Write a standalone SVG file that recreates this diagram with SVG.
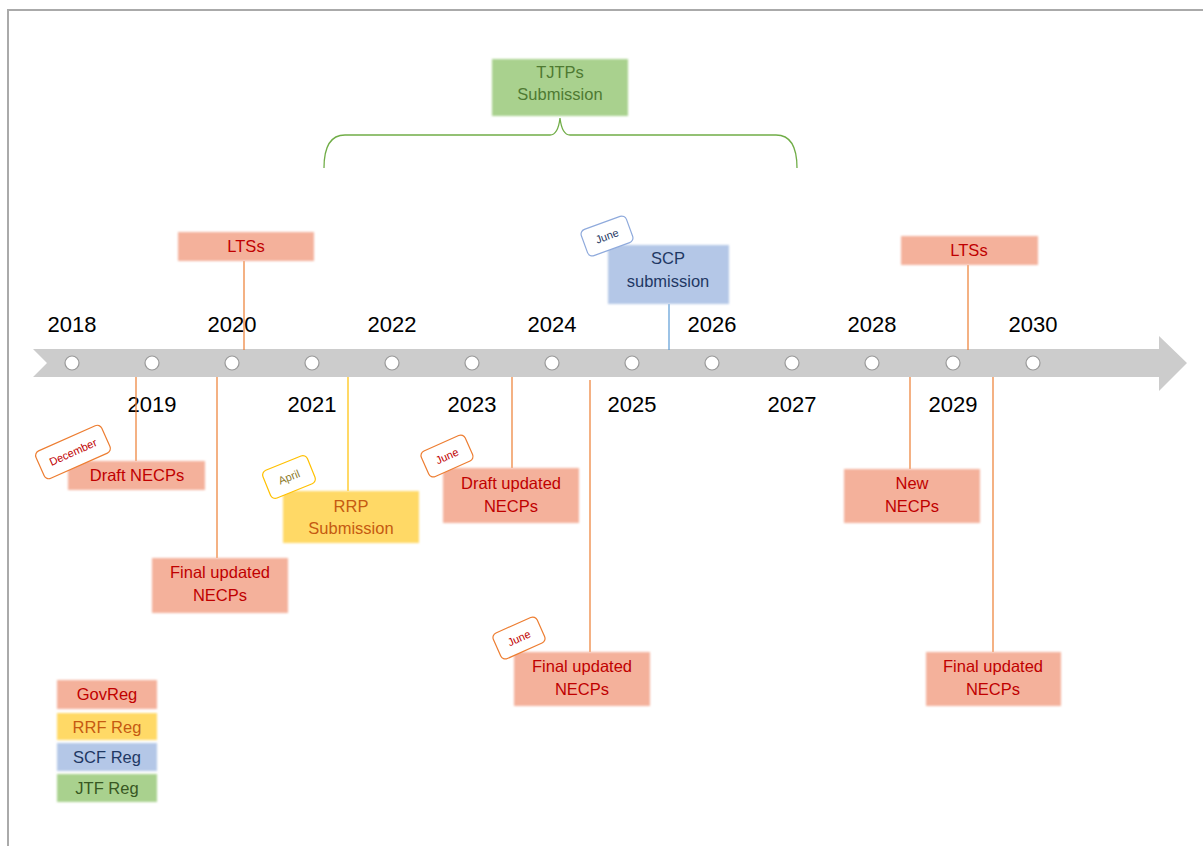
<svg xmlns="http://www.w3.org/2000/svg" width="1203" height="846" viewBox="0 0 1203 846">
<defs>
<filter id="soft" x="-10%" y="-20%" width="120%" height="140%"><feGaussianBlur stdDeviation="1.2"/></filter>
<style>
.yr{font-family:"Liberation Sans",Arial,sans-serif;font-size:22px;fill:#000;text-anchor:middle}
.lbl{font-family:"Liberation Sans",Arial,sans-serif;font-size:16.5px;text-anchor:middle}
.tag{font-family:"Liberation Sans",Arial,sans-serif;font-size:11px;text-anchor:middle}
.gov{fill:#f4b19b}
.rrf{fill:#ffd966}
.scf{fill:#b4c7e7}
.jtf{fill:#a9d18e}
.tgov{fill:#c00000}
.trrf{fill:#c55a11}
.tscf{fill:#1f3864}
.tjtf{fill:#4f7a32}
.dot{fill:#fff;stroke:#999;stroke-width:1.2}
.lo{stroke:#ed7d31;stroke-width:1.2;fill:none}
.ly{stroke:#ffc000;stroke-width:1.2;fill:none}
.lb{stroke:#5b9bd5;stroke-width:1.2;fill:none}
</style>
</defs>
<rect width="1203" height="846" fill="#fff"/>
<path d="M8,846 V10 H1203" fill="none" stroke="#aaa" stroke-width="2"/>

<g id="timeline">
<polygon points="33,349 1159,349 1159,336 1187,363 1159,391 1159,377 33,377 47,363" fill="#cccccc"/>
<g>
<circle class="dot" cx="72" cy="363" r="7"/><circle class="dot" cx="152" cy="363" r="7"/><circle class="dot" cx="232" cy="363" r="7"/><circle class="dot" cx="312" cy="363" r="7"/><circle class="dot" cx="392" cy="363" r="7"/><circle class="dot" cx="472" cy="363" r="7"/><circle class="dot" cx="552" cy="363" r="7"/><circle class="dot" cx="632" cy="363" r="7"/><circle class="dot" cx="712" cy="363" r="7"/><circle class="dot" cx="792" cy="363" r="7"/><circle class="dot" cx="872" cy="363" r="7"/><circle class="dot" cx="953" cy="363" r="7"/><circle class="dot" cx="1033" cy="363" r="7"/>
</g>
<text class="yr" x="72" y="332">2018</text>
<text class="yr" x="232" y="332">2020</text>
<text class="yr" x="392" y="332">2022</text>
<text class="yr" x="552" y="332">2024</text>
<text class="yr" x="712" y="332">2026</text>
<text class="yr" x="872" y="332">2028</text>
<text class="yr" x="1033" y="332">2030</text>
<text class="yr" x="152" y="412">2019</text>
<text class="yr" x="312" y="412">2021</text>
<text class="yr" x="472" y="412">2023</text>
<text class="yr" x="632" y="412">2025</text>
<text class="yr" x="792" y="412">2027</text>
<text class="yr" x="953" y="412">2029</text>
</g>

<g id="connectors">
<line class="lo" x1="244" y1="261" x2="244" y2="350"/>
<line class="lo" x1="136" y1="377" x2="136" y2="461"/>
<line class="lo" x1="217" y1="377" x2="217" y2="558"/>
<line class="ly" x1="348" y1="377" x2="348" y2="491"/>
<line class="lo" x1="512" y1="377" x2="512" y2="468"/>
<line class="lo" x1="590" y1="380" x2="590" y2="652"/>
<line class="lb" x1="669" y1="304" x2="669" y2="350"/>
<line class="lo" x1="968" y1="265" x2="968" y2="350"/>
<line class="lo" x1="910" y1="377" x2="910" y2="469"/>
<line class="lo" x1="993" y1="377" x2="993" y2="652"/>
<path d="M324,168 Q324,135 345,135 H550 Q558,135 560,118 Q562,135 570,135 H776 Q797,135 797,168" fill="none" stroke="#70ad47" stroke-width="1.3"/>
</g>

<g id="tjtps">
<rect class="jtf" x="492" y="59" width="136" height="57" filter="url(#soft)"/>
<text class="lbl tjtf" x="560" y="78">TJTPs</text>
<text class="lbl tjtf" x="560" y="100">Submission</text>
</g>

<g id="lts2020">
<rect class="gov" x="178" y="232" width="136" height="29" filter="url(#soft)"/>
<text class="lbl tgov" x="246" y="252">LTSs</text>
</g>

<g id="scp">
<rect class="scf" x="608" y="245" width="121" height="59" filter="url(#soft)"/>
<text class="lbl tscf" x="668" y="264">SCP</text>
<text class="lbl tscf" x="668" y="287">submission</text>
<g transform="translate(607,236) rotate(-20)">
<rect x="-24" y="-14" width="48" height="28" rx="5" fill="#fff" stroke="#8faadc" stroke-width="1.2"/>
<text class="tag tscf" x="0" y="4">June</text>
</g>
</g>

<g id="lts2029">
<rect class="gov" x="901" y="236" width="137" height="29" filter="url(#soft)"/>
<text class="lbl tgov" x="969" y="256">LTSs</text>
</g>

<g id="draft-necps">
<rect class="gov" x="68" y="461" width="137" height="29" filter="url(#soft)"/>
<text class="lbl tgov" x="137" y="481">Draft NECPs</text>
<g transform="translate(73,452) rotate(-24)">
<rect x="-36" y="-15" width="72" height="30" rx="5" fill="#fff" stroke="#ed7d31" stroke-width="1.2"/>
<text class="tag tgov" x="0" y="4">December</text>
</g>
</g>

<g id="final-necps-2020">
<rect class="gov" x="152" y="558" width="136" height="55" filter="url(#soft)"/>
<text class="lbl tgov" x="220" y="578">Final updated</text>
<text class="lbl tgov" x="220" y="601">NECPs</text>
</g>

<g id="rrp">
<rect class="rrf" x="283" y="491" width="136" height="52" filter="url(#soft)"/>
<text class="lbl trrf" x="351" y="512">RRP</text>
<text class="lbl trrf" x="351" y="534">Submission</text>
<g transform="translate(289,477) rotate(-22)">
<rect x="-24" y="-15" width="48" height="30" rx="5" fill="#fff" stroke="#ffc000" stroke-width="1.2"/>
<text class="tag" fill="#8c7a2a" x="0" y="4">April</text>
</g>
</g>

<g id="draft-updated">
<rect class="gov" x="443" y="468" width="136" height="55" filter="url(#soft)"/>
<text class="lbl tgov" x="511" y="489">Draft updated</text>
<text class="lbl tgov" x="511" y="512">NECPs</text>
<g transform="translate(447,456) rotate(-24)">
<rect x="-24" y="-14" width="48" height="28" rx="5" fill="#fff" stroke="#ed7d31" stroke-width="1.2"/>
<text class="tag tgov" x="0" y="4">June</text>
</g>
</g>

<g id="final-necps-2024">
<rect class="gov" x="514" y="652" width="136" height="54" filter="url(#soft)"/>
<text class="lbl tgov" x="582" y="672">Final updated</text>
<text class="lbl tgov" x="582" y="695">NECPs</text>
<g transform="translate(519,638) rotate(-24)">
<rect x="-24" y="-14" width="48" height="28" rx="5" fill="#fff" stroke="#ed7d31" stroke-width="1.2"/>
<text class="tag tgov" x="0" y="4">June</text>
</g>
</g>

<g id="new-necps">
<rect class="gov" x="844" y="469" width="136" height="54" filter="url(#soft)"/>
<text class="lbl tgov" x="912" y="489">New</text>
<text class="lbl tgov" x="912" y="512">NECPs</text>
</g>

<g id="final-necps-2029">
<rect class="gov" x="926" y="652" width="135" height="54" filter="url(#soft)"/>
<text class="lbl tgov" x="993" y="672">Final updated</text>
<text class="lbl tgov" x="993" y="695">NECPs</text>
</g>

<g id="legend">
<rect class="gov" x="57" y="680" width="100" height="29" filter="url(#soft)"/>
<text class="lbl tgov" x="107" y="700">GovReg</text>
<rect class="rrf" x="57" y="713" width="100" height="27" filter="url(#soft)"/>
<text class="lbl trrf" x="107" y="733">RRF Reg</text>
<rect class="scf" x="57" y="743" width="100" height="28" filter="url(#soft)"/>
<text class="lbl tscf" x="107" y="763">SCF Reg</text>
<rect class="jtf" x="57" y="774" width="100" height="28" filter="url(#soft)"/>
<text class="lbl" fill="#385723" x="107" y="794">JTF Reg</text>
</g>
</svg>
